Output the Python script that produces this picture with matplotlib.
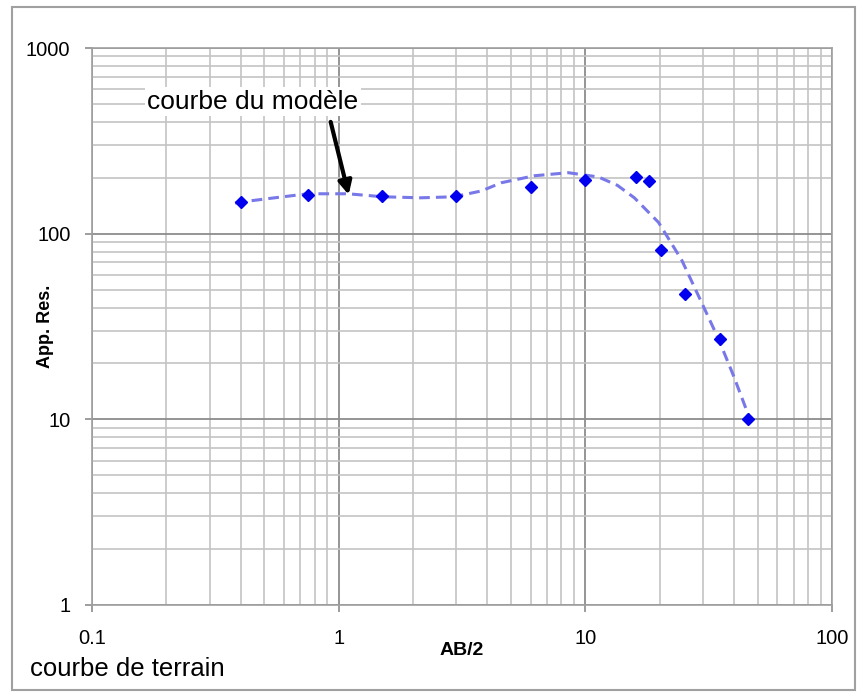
import numpy as np
import matplotlib
matplotlib.use('Agg')
import matplotlib.pyplot as plt
from matplotlib.patches import Rectangle
from matplotlib.ticker import LogLocator, FixedLocator, NullFormatter

plt.rcParams['font.family'] = ['Liberation Sans', 'DejaVu Sans']

# field data (courbe de terrain)
ab2 = [0.4, 0.75, 1.5, 3, 6, 10, 16, 18.2, 20.2, 25.3, 35, 45.6]
app_res = [148, 162, 160, 160, 179, 195, 202, 193, 82, 47.6, 27, 10.1]

# model curve (courbe du modèle)
model_x = [0.38, 0.4, 0.55, 0.75, 1.09, 1.51, 2.15, 2.93, 3.8, 4.56, 6.2, 8.53,
           11.3, 13.5, 15.8, 19.8, 24.6, 29.6, 34.7, 40, 46]
model_y = [146, 148, 156, 164, 164, 158, 156, 158, 170, 188, 205, 213,
           202, 182, 156, 115, 72, 42.6, 27, 17, 10.4]

xticks = [0.1, 1, 10, 100]
yticks = [1, 10, 100, 1000]

fig = plt.figure(figsize=(8.66, 6.96), dpi=100)
ax = fig.add_axes([92/866, 1-605/696, (832-92)/866, (605-48)/696])

# outer frame
fig.patches.append(Rectangle((12/866, 1-690/696), (855-12)/866, (690-7)/696,
                             transform=fig.transFigure, fill=False,
                             edgecolor='#a0a0a0', linewidth=1.5))

ax.set_xscale('log')
ax.set_yscale('log')
ax.set_xlim(0.1, 100)
ax.set_ylim(1, 1000)

ax.xaxis.set_major_locator(FixedLocator(xticks))
ax.yaxis.set_major_locator(FixedLocator(yticks))
ax.set_xticklabels(['0.1', '1', '10', '100'])
ax.set_yticklabels(['1', '10', '100', '1000'])
ax.xaxis.set_minor_locator(LogLocator(base=10, subs=np.arange(2, 10)))
ax.yaxis.set_minor_locator(LogLocator(base=10, subs=np.arange(2, 10)))
ax.xaxis.set_minor_formatter(NullFormatter())
ax.yaxis.set_minor_formatter(NullFormatter())

ax.grid(which='minor', color='#c4c4c4', linewidth=1.2)
ax.grid(which='major', color='#8c8c8c', linewidth=1.3)
ax.set_axisbelow(True)
for s in ax.spines.values():
    s.set_color('#a0a0a0')
    s.set_linewidth(1.2)
ax.tick_params(which='major', length=5, width=1.2, color='#8c8c8c', labelsize=14.5)
ax.tick_params(axis='y', pad=10.5)
ax.tick_params(axis='x', pad=12)
ax.tick_params(which='minor', length=0)

ax.plot(model_x, model_y, '--', color='#7878e8', linewidth=2.2, dashes=(3.5, 2), zorder=3)
ax.plot(ab2, app_res, 'D', color='#0000ee', markersize=6.5, linestyle='none', zorder=4)

ax.set_xlabel('AB/2', fontsize=14, fontweight='bold')
ax.xaxis.set_label_coords(0.5, -0.066)
ax.set_ylabel('App. Res.', fontsize=13, fontweight='bold')
ax.yaxis.set_label_coords(-0.052, 0.5)

ax.text(0.449, 513, 'courbe du modèle', fontsize=19, ha='center', va='center',
        bbox=dict(boxstyle='square,pad=0.1', facecolor='white', edgecolor='none'), zorder=5)
ax.annotate('', xy=(1.098, 162), xytext=(0.928, 400),
            arrowprops=dict(arrowstyle='-|>', color='black', lw=3, mutation_scale=20,
                            shrinkA=0, shrinkB=0), zorder=5)

fig.text(30/866, 1-669/696, 'courbe de terrain', fontsize=18.5, ha='left', va='center')

fig.savefig('out.png', dpi=100)
